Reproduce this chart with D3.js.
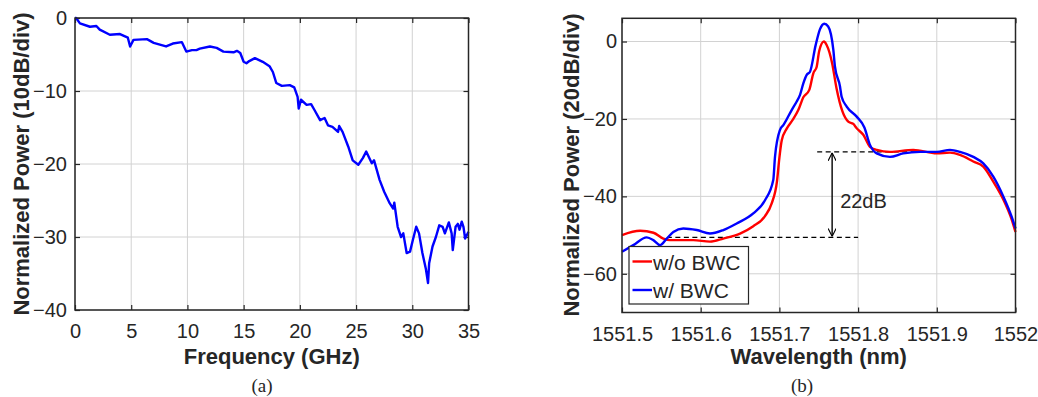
<!DOCTYPE html>
<html>
<head>
<meta charset="utf-8">
<script src="https://cdn.jsdelivr.net/npm/d3@7"></script>
<style>
  body { margin: 0; background: #fff; }
  text { font-family: Arial, "Liberation Sans", sans-serif; fill: #262626; }
</style>
</head>
<body>
<svg id="chart" width="1038" height="397"></svg>
<script>
// (a) frequency response
const freqGHz = [0, 0.1, 0.44, 1.33, 1.9, 2.2, 3.1, 4.0, 4.7, 4.9, 5.2, 6.4, 7.0, 8.1, 8.7, 9.5, 9.9, 10.4, 10.8, 11.1,
  12.0, 12.6, 13.2, 14.1, 14.4, 14.7, 15.0, 15.25, 15.5, 16.0, 16.7, 17.3, 17.6, 17.9, 18.4, 19.1, 19.5, 19.8, 19.9, 20.1,
  20.6, 21.0, 21.3, 21.8, 22.2, 22.5, 22.9, 23.4, 23.5, 23.8, 24.3, 24.7, 25.2, 25.6, 25.9, 26.4, 26.6, 27.1, 27.5, 28.0,
  28.3, 28.4, 28.7, 29.0, 29.2, 29.5, 29.8, 30.05, 30.35, 30.6, 30.9, 31.2, 31.4, 31.5, 31.8, 32.1, 32.4, 32.7, 32.9, 33.25,
  33.5, 33.6, 33.85, 34.05, 34.2, 34.4, 34.55, 34.7, 35.0];
const freqPower = [0, 0, -0.73, -1.2, -1.1, -1.6, -2.3, -2.2, -2.7, -3.9, -3.0, -2.9, -3.4, -3.9, -3.5, -3.3, -4.6, -4.4, -4.4, -4.2,
  -3.9, -4.1, -4.6, -4.7, -4.5, -4.8, -6.0, -6.2, -5.9, -5.5, -6.0, -6.6, -7.4, -8.9, -9.3, -9.2, -9.5, -10.8, -12.4, -11.2,
  -11.9, -11.8, -12.6, -14.0, -13.7, -14.7, -14.9, -15.6, -14.8, -15.6, -17.6, -19.5, -20.1, -19.2, -18.3, -19.9, -19.5, -22.2, -23.8, -25.4,
  -26.1, -25.3, -28.6, -30.0, -29.5, -32.2, -32.0, -30.4, -28.6, -29.5, -32.2, -34.3, -36.3, -33.6, -31.3, -30.0, -28.4, -28.6, -29.5, -28.0,
  -29.5, -31.8, -28.6, -28.2, -29.0, -27.9, -28.6, -30.2, -29.3];
const freqTicks = [0, 5, 10, 15, 20, 25, 30, 35];
const freqPowerTicks = [0, -10, -20, -30, -40];

// (b) optical spectra
const wlNoBwc = [1551.500, 1551.523, 1551.540, 1551.5525, 1551.561, 1551.5906, 1551.6118, 1551.6287, 1551.650, 1551.6668,
  1551.6817, 1551.6902, 1551.697, 1551.700, 1551.703, 1551.7093, 1551.7177, 1551.724, 1551.7304, 1551.738, 1551.7431,
  1551.7474, 1551.7505, 1551.7565, 1551.760, 1551.767, 1551.7725, 1551.780, 1551.7875, 1551.7939, 1551.7982, 1551.8066,
  1551.8151, 1551.8236, 1551.8405, 1551.8701, 1551.900, 1551.9168, 1551.9295, 1551.9464, 1551.9591, 1551.9718,
  1551.9845, 1551.9952, 1552.000];
const pwrNoBwc = [-50.0, -48.9, -49.4, -50.9, -51.3, -51.3, -51.7, -50.9, -49.6, -47.7,
  -45.1, -41.8, -36.0, -30.0, -25.5, -22.5, -20.0, -17.7, -14.4, -12.5, -8.2,
  -6.5, -2.5, 0, -0.9, -5.6, -12.0, -18.0, -20.7, -21.3, -22.4, -24.1,
  -27.2, -28.0, -28.5, -28.0, -28.9, -28.7, -29.3, -31.0, -32.3, -36.2,
  -40.8, -46.0, -49.2];
const wlBwc = [1551.500, 1551.5144, 1551.5314, 1551.5398, 1551.5483, 1551.5568, 1551.5652, 1551.5779, 1551.5949, 1551.6118,
  1551.6287, 1551.6457, 1551.6668, 1551.6817, 1551.6922, 1551.6944, 1551.7008, 1551.705, 1551.7156, 1551.722, 1551.7262,
  1551.7304, 1551.7347, 1551.7389, 1551.746, 1551.7516, 1551.757, 1551.762, 1551.7685, 1551.7706, 1551.777, 1551.779,
  1551.7855, 1551.7982, 1551.808, 1551.8151, 1551.8236, 1551.8405, 1551.8574, 1551.8787, 1551.900, 1551.9168, 1551.9295,
  1551.9464, 1551.9591, 1551.9718, 1551.9845, 1551.9952, 1552.000];
const pwrBwc = [-54.3, -52.6, -50.6, -51.3, -52.6, -50.9, -49.2, -48.3, -48.7, -49.6,
  -48.7, -47.0, -44.4, -41.0, -35.8, -29.8, -22.8, -21.6, -17.7, -15.5, -13.8,
  -10.8, -8.6, -7.8, -1.0, 3.2, 4.6, 3.9, -2.1, -6.5, -11.6, -14.2,
  -16.8, -19.4, -22.2, -26.7, -28.9, -29.8, -28.9, -28.5, -28.5, -28.0, -28.5,
  -29.8, -31.5, -34.9, -40.0, -45.3, -48.3];
const wlTicks = [1551.5, 1551.6, 1551.7, 1551.8, 1551.9, 1552];
const wlPowerTicks = [0, -20, -40, -60];
const seriesNames = ["w/o BWC", "w/ BWC"];
const seriesColors = ["#ff0000", "#0000ff"];

// 22 dB annotation
const floorLevel = -50.6, shoulderLevel = -28.5, arrowWl = 1551.767;

const svg = d3.select("#chart");
svg.append("rect").attr("width", 1038).attr("height", 397).attr("fill", "#fff");

svg.append("defs").append("marker")
  .attr("id", "head")
  .attr("viewBox", "0 0 10 10")
  .attr("refX", 10).attr("refY", 5)
  .attr("markerWidth", 8).attr("markerHeight", 8)
  .attr("markerUnits", "userSpaceOnUse")
  .attr("orient", "auto-start-reverse")
  .append("path")
  .attr("d", "M0,0 L10,5 L0,10")
  .attr("fill", "none").attr("stroke", "#000").attr("stroke-width", 1.4);

const drawFrame = (o) => {
  const x = d3.scaleLinear().domain(o.xDomain).range([o.left, o.right]);
  const y = d3.scaleLinear().domain(o.yDomain).range([o.bottom, o.top]);
  const g = svg.append("g");

  /* grid */
  g.selectAll(null).data(o.xTicks).enter().append("line")
    .attr("x1", (d) => x(d)).attr("x2", (d) => x(d))
    .attr("y1", o.top).attr("y2", o.bottom)
    .attr("stroke", "#d2d2d2").attr("stroke-width", 1);
  g.selectAll(null).data(o.yTicks).enter().append("line")
    .attr("y1", (d) => y(d)).attr("y2", (d) => y(d))
    .attr("x1", o.left).attr("x2", o.right)
    .attr("stroke", "#d2d2d2").attr("stroke-width", 1);

  /* axes, ticks inward on all sides */
  const xb = g.append("g").attr("transform", `translate(0,${o.bottom})`)
    .call(d3.axisBottom(x).tickValues(o.xTicks).tickSizeInner(-5).tickSizeOuter(0)
      .tickPadding(14).tickFormat(o.xFormat));
  const xt = g.append("g").attr("transform", `translate(0,${o.top})`)
    .call(d3.axisTop(x).tickValues(o.xTicks).tickSizeInner(-5).tickSizeOuter(0).tickFormat(""));
  const yl = g.append("g").attr("transform", `translate(${o.left},0)`)
    .call(d3.axisLeft(y).tickValues(o.yTicks).tickSizeInner(-5).tickSizeOuter(0)
      .tickPadding(o.yPad).tickFormat(d3.format("d")));
  const yr = g.append("g").attr("transform", `translate(${o.right},0)`)
    .call(d3.axisRight(y).tickValues(o.yTicks).tickSizeInner(-5).tickSizeOuter(0).tickFormat(""));
  [xb, xt, yl, yr].forEach((a) => {
    a.select(".domain").remove();
    a.selectAll("line").attr("stroke", "#262626").attr("stroke-width", 1.2);
    a.selectAll("text").attr("font-size", 20).attr("font-family", "Arial, 'Liberation Sans', sans-serif")
      .attr("fill", "#262626");
  });

  /* labels */
  svg.append("text").attr("x", (o.left + o.right) / 2).attr("y", 364)
    .attr("text-anchor", "middle").attr("font-size", 22).attr("font-weight", "bold")
    .text(o.xLabel);
  svg.append("text").attr("transform", `translate(${o.yLabelX},${o.yLabelY}) rotate(-90)`)
    .attr("text-anchor", "middle").attr("dominant-baseline", "central")
    .attr("font-size", 22).attr("font-weight", "bold")
    .text(o.yLabel);
  svg.append("text").attr("x", o.captionX).attr("y", 392)
    .attr("text-anchor", "middle").attr("font-size", 19)
    .style("font-family", "'Liberation Serif', 'Times New Roman', serif")
    .text(o.caption);

  return { x, y, box: () => svg.append("rect")
    .attr("x", o.left).attr("y", o.top)
    .attr("width", o.right - o.left).attr("height", o.bottom - o.top)
    .attr("fill", "none").attr("stroke", "#262626").attr("stroke-width", 1.5) };
};

/* ---- (a) ---- */
const a = drawFrame({
  left: 75, right: 468.5, top: 18, bottom: 310,
  xDomain: [0, 35], yDomain: [-40, 0],
  xTicks: freqTicks, yTicks: freqPowerTicks,
  xFormat: d3.format("d"), yPad: 8,
  xLabel: "Frequency (GHz)", yLabel: "Normalized Power (10dB/div)",
  yLabelX: 21, yLabelY: 164, caption: "(a)", captionX: 262
});
svg.append("path")
  .datum(freqGHz.map((f, i) => [f, freqPower[i]]))
  .attr("fill", "none").attr("stroke", "#0000ff").attr("stroke-width", 2.4)
  .attr("stroke-linejoin", "round")
  .attr("d", d3.line().x((d) => a.x(d[0])).y((d) => a.y(d[1])));
a.box();

/* ---- (b) ---- */
const b = drawFrame({
  left: 622, right: 1015.5, top: 18.3, bottom: 312.5,
  xDomain: [1551.5, 1552], yDomain: [-70, 6],
  xTicks: wlTicks, yTicks: wlPowerTicks,
  xFormat: (d) => d3.format(".1f")(d).replace(/\.0$/, ""), yPad: 5,
  xLabel: "Wavelength (nm)", yLabel: "Normalized Power (20dB/div)",
  yLabelX: 571, yLabelY: 165, caption: "(b)", captionX: 802
});

/* dashed reference levels */
svg.append("line")
  .attr("x1", b.x(1551.748)).attr("x2", b.x(1551.9))
  .attr("y1", b.y(shoulderLevel)).attr("y2", b.y(shoulderLevel))
  .attr("stroke", "#000").attr("stroke-width", 1.3).attr("stroke-dasharray", "5,3.5");
svg.append("line")
  .attr("x1", b.x(1551.557)).attr("x2", b.x(1551.8))
  .attr("y1", b.y(floorLevel)).attr("y2", b.y(floorLevel))
  .attr("stroke", "#000").attr("stroke-width", 1.3).attr("stroke-dasharray", "5,3.5");

const spectra = [[wlNoBwc, pwrNoBwc], [wlBwc, pwrBwc]];
spectra.forEach(([wl, p], k) => {
  svg.append("path")
    .datum(wl.map((w, i) => [w, p[i]]))
    .attr("fill", "none").attr("stroke", seriesColors[k]).attr("stroke-width", 2.4)
    .attr("stroke-linejoin", "round")
    .attr("d", d3.line().curve(d3.curveMonotoneX).x((d) => b.x(d[0])).y((d) => b.y(d[1])));
});

/* double arrow */
svg.append("line")
  .attr("x1", b.x(arrowWl)).attr("x2", b.x(arrowWl))
  .attr("y1", b.y(shoulderLevel) + 1).attr("y2", b.y(floorLevel) - 1)
  .attr("stroke", "#000").attr("stroke-width", 1.4)
  .attr("marker-start", "url(#head)").attr("marker-end", "url(#head)");
svg.append("text").attr("x", b.x(arrowWl) + 8).attr("y", 208)
  .attr("font-size", 20).text(`${Math.round(shoulderLevel - floorLevel)}dB`);

b.box();

/* legend */
const lg = svg.append("g").attr("transform", "translate(629,246.5)");
lg.append("rect").attr("width", 119.5).attr("height", 57.5)
  .attr("fill", "#fff").attr("stroke", "#262626").attr("stroke-width", 1.2);
seriesNames.forEach((name, k) => {
  const yy = 15 + k * 28.5;
  lg.append("line").attr("x1", 3.5).attr("x2", 23).attr("y1", yy).attr("y2", yy)
    .attr("stroke", seriesColors[k]).attr("stroke-width", 2.4);
  lg.append("text").attr("x", 24).attr("y", yy + 8)
    .attr("font-size", 21).text(name);
});
</script>
</body>
</html>
